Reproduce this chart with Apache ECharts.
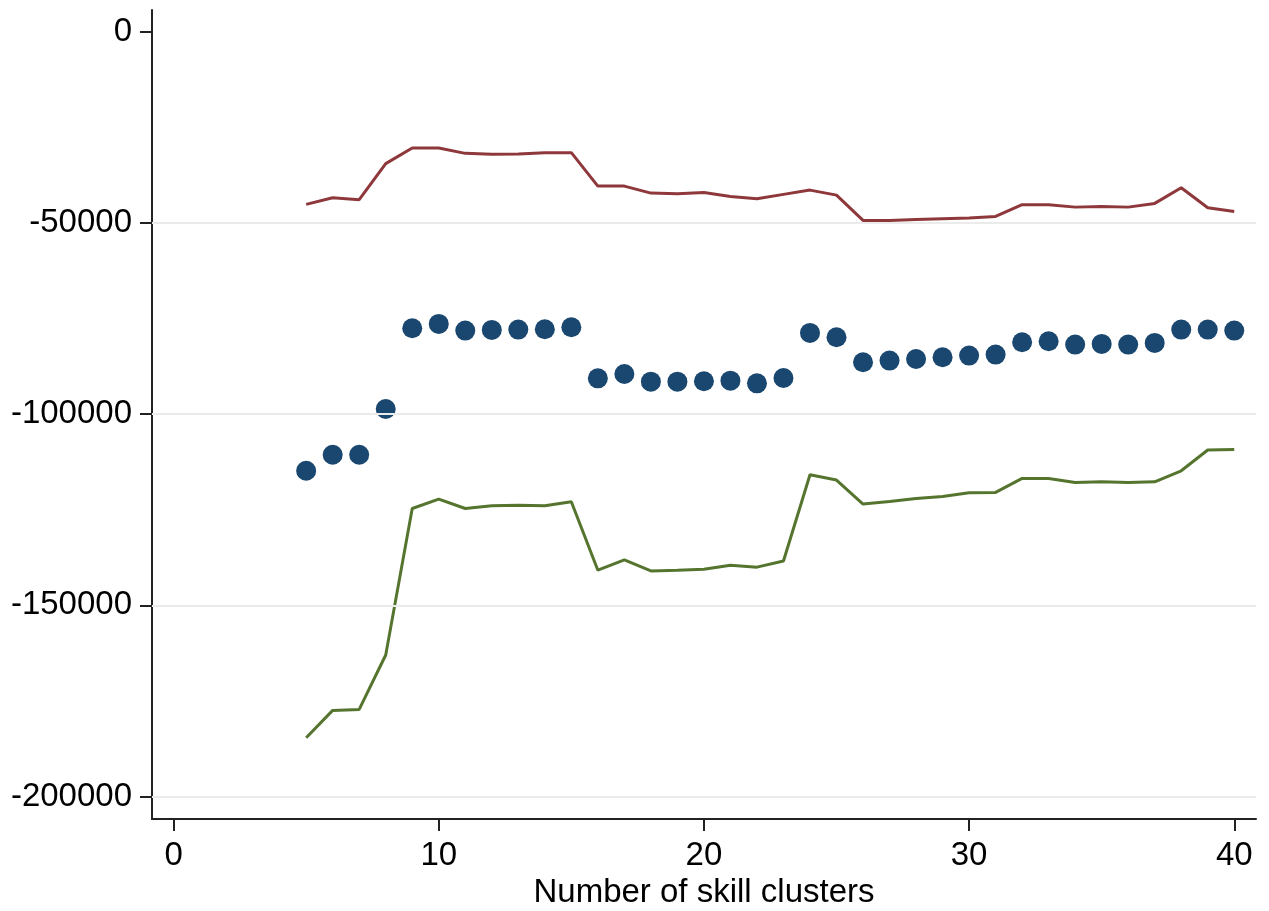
<!DOCTYPE html>
<html>
<head>
<meta charset="utf-8">
<script src="https://cdn.jsdelivr.net/npm/echarts@6/dist/echarts.min.js"></script>
<style>
html,body{margin:0;padding:0;background:#fff;}
#chart{width:1269px;height:911px;}
</style>
</head>
<body>
<div id="chart"></div>
<script>
var clusters = [5,6,7,8,9,10,11,12,13,14,15,16,17,18,19,20,21,22,23,24,25,26,27,28,29,30,31,32,33,34,35,36,37,38,39,40];
var upperBound = [-45160,-43410,-43930,-34500,-30420,-30420,-31810,-32070,-31990,-31630,-31630,-40370,-40370,
  -42200,-42360,-42020,-43070,-43670,-42540,-41420,-42730,
  -49350,-49350,-49090,-48900,-48700,-48300,
  -45240,-45240,-45870,-45680,-45870,-44900,-40790,-46020,-46990];
var estimate = [-114800,-110600,-110600,-98650,-77540,-76400,-78150,-77970,-77890,-77800,-77280,
  -90630,-89490,-91500,-91500,-91410,-91240,-91940,-90540,-78760,-79900,
  -86440,-86000,-85570,-85130,-84690,-84430,-81200,-80940,-81810,-81640,-81810,-81380,-77890,-77890,-78150];
var lowerBound = [-184600,-177460,-177190,-162970,-124660,-122210,-124660,-123960,-123790,-123960,-122910,
  -140800,-138100,-140980,-140800,-140540,-139490,-140000,-138380,-115850,-117240,
  -123520,-122830,-122040,-121520,-120560,-120470,-116810,-116810,-117860,-117680,-117860,-117680,-114800,-109380,-109220];
var xTicks = [0,10,20,30,40];
var yTicks = [0,-50000,-100000,-150000,-200000];
var yGridTicks = [-50000,-100000,-150000,-200000];
var xAxisTitle = 'Number of skill clusters';

function pairs(vals){ return clusters.map(function(x,i){ return [x, vals[i]]; }); }

var chart = echarts.init(document.getElementById('chart'), null, {renderer:'canvas'});
var font = 'Liberation Sans, Arial, Helvetica, sans-serif';
chart.setOption({
  animation:false,
  backgroundColor:'#ffffff',
  grid:{left:152, right:13, top:10, bottom:92, containLabel:false, outerBoundsMode:'none'},
  xAxis:{
    type:'value', min:-0.814, max:40.82,
    name:xAxisTitle, nameLocation:'middle', nameGap:51,
    nameTextStyle:{fontFamily:font, fontSize:33, color:'#000'},
    axisLine:{show:true, onZero:false, lineStyle:{color:'#222', width:2}},
    axisTick:{show:true, customValues:xTicks, length:12, lineStyle:{color:'#222', width:2}},
    axisLabel:{show:true, customValues:xTicks, margin:20, fontFamily:font, fontSize:33, color:'#000',
      formatter:function(v){return String(v);}},
    splitLine:{show:false}
  },
  yAxis:{
    type:'value', min:-205850, max:5670,
    axisLine:{show:true, onZero:false, lineStyle:{color:'#222', width:2}},
    axisTick:{show:true, customValues:yTicks, length:12, lineStyle:{color:'#222', width:2}},
    axisLabel:{show:true, customValues:yTicks, margin:20, fontFamily:font, fontSize:33, color:'#000',
      formatter:function(v){return String(v);}},
    splitLine:{show:false}
  },
  series:[
    {
      type:'line', name:'grid', data:[], silent:true, z:1,
      markLine:{silent:true, symbol:['none','none'], label:{show:false},
        lineStyle:{color:'#ebebeb', width:2, type:'solid'},
        data:yGridTicks.map(function(v){return {yAxis:v};})}
    },
    {
      type:'line', name:'upper', data:pairs(upperBound), showSymbol:false, symbol:'none', z:3,
      lineStyle:{color:'#8e383c', width:3}
    },
    {
      type:'line', name:'lower', data:pairs(lowerBound), showSymbol:false, symbol:'none', z:3,
      lineStyle:{color:'#55752f', width:3}
    },
    {
      type:'scatter', name:'estimate', data:pairs(estimate), symbol:'circle', symbolSize:20, z:4,
      itemStyle:{color:'#1a476f', opacity:1}
    }
  ]
});
</script>
</body>
</html>
